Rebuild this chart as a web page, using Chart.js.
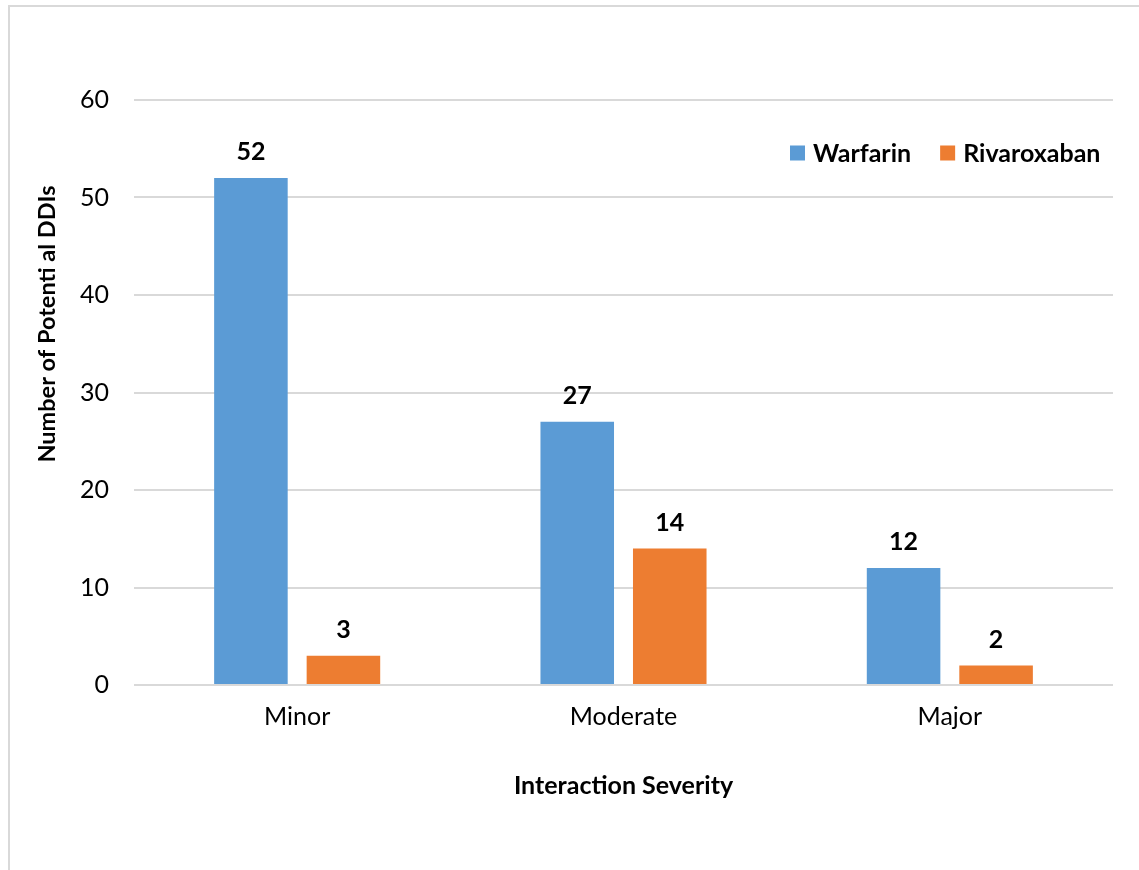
<!DOCTYPE html>
<html>
<head>
<meta charset="utf-8">
<script src="https://cdn.jsdelivr.net/npm/chart.js@4/dist/chart.umd.min.js"></script>
<style>
    html, body { margin: 0; padding: 0; background: #fff; }
    #wrap { position: relative; width: 1139px; height: 870px; }
    #frame {
        position: absolute; left: 8px; top: 5px; right: 0; bottom: 0;
        border-left: 2px solid #d9d9d9; border-top: 2px solid #d9d9d9;
    }
    canvas { position: absolute; left: 0; top: 0; }
</style>
</head>
<body>
<div id="wrap">
    <div id="frame"></div>
    <canvas id="ddiChart" width="1139" height="870"></canvas>
</div>
<script>
// chart data
const severityLabels = ['Minor', 'Moderate', 'Major'];
const warfarinCounts = [52, 27, 12];
const rivaroxabanCounts = [3, 14, 2];
const yTicks = [0, 10, 20, 30, 40, 50, 60];

const FONT = 'Lato';

// value labels over the bars
const valueLabels = {
    id: 'valueLabels',
    afterDatasetsDraw(chart) {
        const ctx = chart.ctx;
        ctx.save();
        ctx.font = `bold 25px ${FONT}`;
        ctx.fillStyle = '#000';
        ctx.textAlign = 'center';
        ctx.textBaseline = 'middle';
        chart.data.datasets.forEach((ds, i) => {
            chart.getDatasetMeta(i).data.forEach((bar, j) => {
                ctx.fillText(ds.data[j], bar.x, bar.y - 26);
            });
        });
        ctx.restore();
    }
};

// legend inside the plot, top right
const insideLegend = {
    id: 'insideLegend',
    afterDraw(chart) {
        const ctx = chart.ctx;
        ctx.save();
        ctx.font = `bold 25px ${FONT}`;
        ctx.textBaseline = 'middle';
        ctx.textAlign = 'left';
        let x = 790;
        const y = 153;
        chart.data.datasets.forEach(ds => {
            ctx.fillStyle = ds.backgroundColor;
            ctx.fillRect(x, y - 7.5, 15, 15);
            ctx.fillStyle = '#000';
            ctx.fillText(ds.label, x + 23, y + 1);
            x += 23 + ctx.measureText(ds.label).width + 29;
        });
        ctx.restore();
    }
};

// y axis title, placed like the original
const yTitle = {
    id: 'yTitle',
    afterDraw(chart) {
        const ctx = chart.ctx;
        ctx.save();
        ctx.translate(47, 324);
        ctx.rotate(-Math.PI / 2);
        ctx.font = `bold 23.5px ${FONT}`;
        ctx.fillStyle = '#000';
        ctx.textAlign = 'center';
        ctx.textBaseline = 'middle';
        ctx.fillText('Number of Potenti al DDIs', 0, 0);
        ctx.restore();
    }
};

new Chart(document.getElementById('ddiChart'), {
    type: 'bar',
    data: {
        labels: severityLabels,
        datasets: [
            {
                label: 'Warfarin',
                data: warfarinCounts,
                backgroundColor: '#5b9bd5',
                categoryPercentage: 0.567,
                barPercentage: 0.795
            },
            {
                label: 'Rivaroxaban',
                data: rivaroxabanCounts,
                backgroundColor: '#ed7d31',
                categoryPercentage: 0.567,
                barPercentage: 0.795
            }
        ]
    },
    options: {
        responsive: false,
        animation: false,
        layout: {
            padding: { left: 0, top: 100, right: 26, bottom: 0 }
        },
        plugins: {
            legend: { display: false },
            tooltip: { enabled: false }
        },
        scales: {
            x: {
                afterFit(scale) { scale.height = 185; },
                grid: { display: false, drawTicks: false },
                border: { display: false },
                ticks: {
                    padding: 17,
                    color: '#000',
                    font: { size: 25, family: FONT }
                },
                title: {
                    display: true,
                    text: 'Interaction Severity',
                    color: '#000',
                    font: { size: 25, family: FONT, weight: 'bold' },
                    padding: { top: 0, bottom: 69 }
                }
            },
            y: {
                min: 0,
                max: 60,
                afterFit(scale) { scale.width = 134; },
                afterBuildTicks(scale) {
                    scale.ticks = yTicks.map(v => ({ value: v }));
                },
                grid: { color: '#d9d9d9', lineWidth: 2, drawTicks: false },
                border: { display: false },
                ticks: {
                    padding: 25,
                    color: '#000',
                    font: { size: 25, family: FONT }
                }
            }
        }
    },
    plugins: [valueLabels, insideLegend, yTitle]
});
</script>
</body>
</html>
